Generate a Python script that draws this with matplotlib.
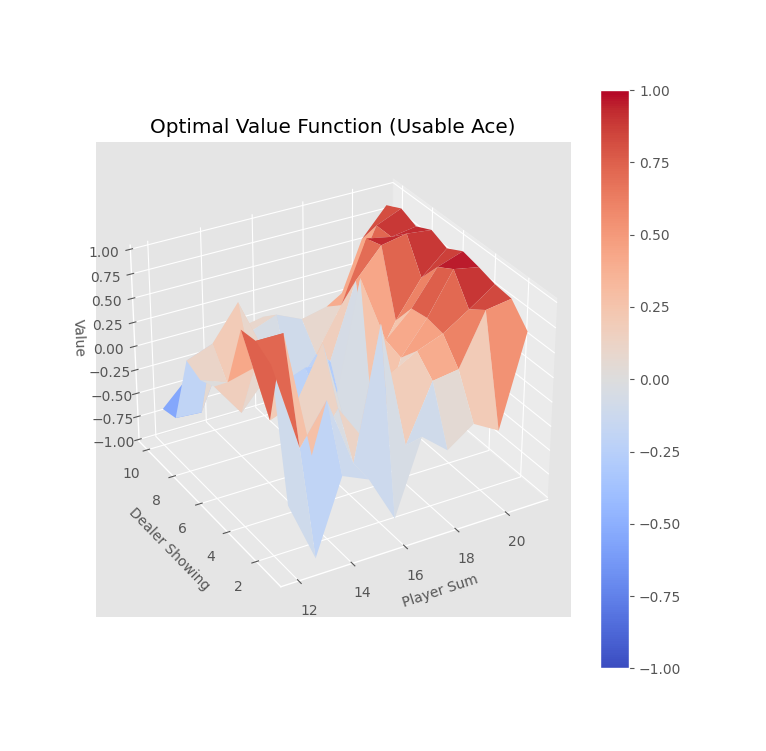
import numpy as np
import matplotlib
matplotlib.use('Agg')
import matplotlib.pyplot as plt

plt.style.use('ggplot')

player_sum = np.arange(12, 22)
dealer_showing = np.arange(1, 11)
# rows: dealer showing 1..10, columns: player sum 12..21
values = np.array([
    [-0.35, -0.98, -0.22, -0.34, -0.83, -0.07, -0.29, -0.10, -0.25, 0.68],
    [0.90, 0.00, 0.40, -0.32, 1.00, -0.30, 0.28, 0.32, 0.84, 0.88],
    [1.00, 1.00, -0.30, 0.10, -0.30, 0.30, 0.45, 0.55, 0.72, 0.90],
    [0.98, 0.00, 0.10, 0.62, -0.41, -0.54, 0.25, 0.58, 1.00, 0.95],
    [0.33, 0.40, 0.03, -0.56, -0.25, 1.00, 0.30, 0.55, 0.90, 0.99],
    [0.15, -0.20, 0.10, -0.30, -0.30, -0.60, -0.18, 0.30, 0.67, 0.90],
    [0.08, -0.02, -0.03, -0.20, -0.10, -0.10, 0.66, 0.95, 1.00, 0.97],
    [0.15, 0.25, 0.60, 0.00, -0.50, -0.16, 0.28, 0.90, 0.85, 0.89],
    [-0.59, -0.61, 0.00, 0.10, 0.20, 0.08, 0.14, 0.30, 0.85, 0.96],
    [-0.63, -0.37, -0.30, 0.00, 0.05, -0.10, -0.10, -0.05, 0.59, 0.88],
])

X, Y = np.meshgrid(player_sum, dealer_showing)

fig = plt.figure(figsize=(7.66, 7.51), dpi=100)
ax = fig.add_subplot(111, projection='3d')
surf = ax.plot_surface(X, Y, values, rstride=1, cstride=1,
                       cmap=matplotlib.cm.coolwarm, vmin=-1.0, vmax=1.0)
ax.set_xlabel('Player Sum', fontsize=10)
ax.set_ylabel('Dealer Showing', fontsize=10)
ax.set_zlabel('Value', fontsize=10)
ax.set_title('Optimal Value Function (Usable Ace)')
ax.view_init(ax.elev, -120)
fig.colorbar(surf)
fig.savefig('out.png')
